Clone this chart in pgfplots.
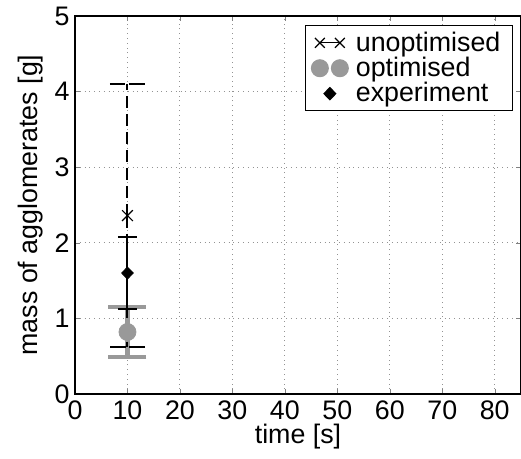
\documentclass[border=0pt]{standalone}
\usepackage{fontspec}
\setmainfont{Liberation Sans}
\usepackage{pgfplots}
\pgfplotsset{compat=1.18}
\definecolor{optgray}{RGB}{153,153,153}

\begin{document}
\begin{tikzpicture}[font=\fontsize{13.4}{15.5}\selectfont]
\useasboundingbox (-37.5pt,-32.5pt) rectangle (223pt,197pt);
\begin{axis}[
    width=223pt, height=189pt, scale only axis,
    xmin=0, xmax=85, ymin=0, ymax=5,
    xtick={0,10,...,80}, ytick={0,1,...,5},
    tick align=inside, major tick length=2.5pt,
    grid=major,
    major grid style={dotted, line width=0.5pt, draw=gray!85},
    axis line style={line width=0.7pt},
    /pgf/number format/assume math mode=true,
    xticklabel style={anchor=north, inner sep=0pt, yshift=-3pt},
    yticklabel style={anchor=east, inner sep=0pt, xshift=-2.5pt},
    xlabel={time [s]}, ylabel={mass of agglomerates [g]},
    xlabel style={at={(axis description cs:0.5,-0.112)}, anchor=center},
    ylabel style={at={(axis description cs:-0.0987,0.5)}, anchor=center},
    legend style={at={(rel axis cs:1,1)}, anchor=north east,
        xshift=-4pt, yshift=-4.5pt, draw=black, line width=0.6pt,
        inner xsep=2.5pt, inner ysep=2.5pt, row sep=0.5pt, column sep=0pt,
        nodes={inner ysep=0.5pt, inner xsep=3.5pt},
        cells={anchor=west}},
    legend cell align=left,
]
% optimised (drawn first, sits behind)
\addplot+[forget plot, only marks, mark=*, mark size=4.25pt,
    color=optgray, mark options={fill=optgray, draw=optgray},
    error bars/.cd, y dir=both, y explicit,
    error bar style={line width=2.5pt, color=optgray},
    error mark options={rotate=90, mark size=9.5pt, line width=2.4pt, color=optgray}]
    coordinates {(10,0.82) +- (0,0.33)};
% unoptimised
\addplot+[forget plot, only marks, mark=x, mark size=3.8pt, color=black,
    mark options={line width=0.6pt},
    error bars/.cd, y dir=both, y explicit,
    error bar style={line width=1pt, dash pattern=on 6pt off 3pt, color=black},
    error mark options={rotate=90, mark size=8.8pt, line width=1pt,
        dash pattern=on 7.8pt off 1.8pt, color=black}]
    coordinates {(10,2.36) += (0,1.74) -= (0,1.74)};
% experiment
\addplot+[forget plot, only marks, mark=diamond*, mark size=3pt, color=black,
    mark options={fill=black, xscale=1.3},
    error bars/.cd, y dir=both, y explicit,
    error bar style={line width=1pt, solid, color=black},
    error mark options={rotate=90, mark size=4.8pt, line width=1pt, color=black}]
    coordinates {(10,1.6) +- (0,0.48)};

\addlegendimage{legend image code/.code={
    \path (-4pt,0) (14pt,0);
    \draw[black, line width=0.6pt] plot[mark=x, mark size=3.5pt] coordinates {(0pt,0) (10pt,0)};}}
\addlegendentry{unoptimised}
\addlegendimage{legend image code/.code={
    \path (-4pt,0) (14pt,0);
    \fill[optgray] (0pt,0) circle (4.2pt) (10pt,0) circle (4.2pt);}}
\addlegendentry{optimised}
\addlegendimage{legend image code/.code={
    \path (-4pt,0) (14pt,0);
    \draw[black, fill=black] plot[mark=diamond*, mark size=3pt, mark options={xscale=1.3}] coordinates {(5pt,0)};}}
\addlegendentry{experiment}
\end{axis}
\end{tikzpicture}
\end{document}
